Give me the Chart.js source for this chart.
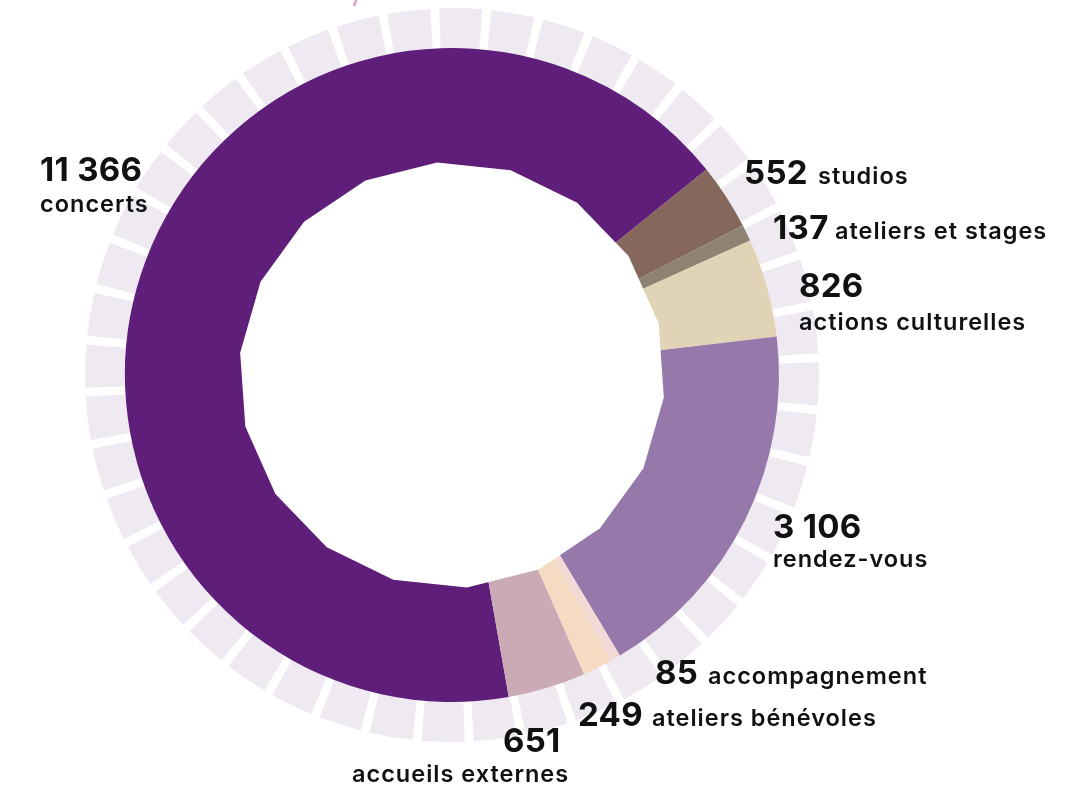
<!DOCTYPE html>
<html>
<head>
<meta charset="utf-8">
<script src="https://cdn.jsdelivr.net/npm/chart.js@4"></script>
<style>
  html, body { margin: 0; padding: 0; background: #fff; }
  #wrap { width: 1091px; height: 789px; position: relative; }
</style>
</head>
<body>
<div id="wrap"><canvas id="donut"></canvas></div>
<script>
// data
const categories = ["concerts", "studios", "ateliers et stages", "actions culturelles",
                    "rendez-vous", "accompagnement", "ateliers bénévoles", "accueils externes"];
const counts = [11366, 552, 137, 826, 3106, 85, 249, 651];
const countLabels = ["11 366", "552", "137", "826", "3 106", "85", "249", "651"];
const colors = ["#5e1e79", "#85675c", "#8e8372", "#e1d4b6", "#9778ab", "#f3d9d5", "#f4dbc1", "#c9aab5"];

// where each label sits (number position, text position, baseline)
const labelLayout = [
    { nx: 40,  ny: 181, tx: 40,  ty: 212 },
    { nx: 744, ny: 184, tx: 818, ty: 184 },
    { nx: 773, ny: 239, tx: 835, ty: 239 },
    { nx: 799, ny: 297, tx: 799, ty: 330 },
    { nx: 773, ny: 538, tx: 773, ty: 567 },
    { nx: 655, ny: 684, tx: 708, ty: 684 },
    { nx: 578, ny: 726, tx: 652, ty: 726 },
    { nx: 503, ny: 752, tx: 352, ty: 782 }
];

const deg = Math.PI / 180;

// light lavender blocks around the ring
const blockRing = {
    id: 'blockRing',
    beforeDatasetsDraw(chart) {
        const arc = chart.getDatasetMeta(0).data[0];
        const cx = arc.x, cy = arc.y;
        const ctx = chart.ctx;
        const n = 44;
        const pitch = 360 / n;
        const gap = 1.4;
        ctx.save();
        ctx.fillStyle = "#efe9f2";
        for (let i = 0; i < n; i++) {
            const a0 = (-90 - 2 + i * pitch) * deg;
            const a1 = a0 + (pitch - gap) * deg;
            ctx.beginPath();
            ctx.arc(cx, cy, 367, a0, a1);
            ctx.arc(cx, cy, 300, a1, a0, true);
            ctx.closePath();
            ctx.fill();
        }
        // small pink mark cut off at the top
        ctx.strokeStyle = "#d9a9c2";
        ctx.lineWidth = 2.5;
        ctx.beginPath();
        ctx.moveTo(357, -2);
        ctx.lineTo(354, 6);
        ctx.stroke();
        ctx.restore();
    },
    afterDatasetsDraw(chart) {
        // polygonal hole in the middle
        const arc = chart.getDatasetMeta(0).data[0];
        const cx = arc.x, cy = arc.y;
        const ctx = chart.ctx;
        ctx.save();
        ctx.fillStyle = "#ffffff";
        ctx.beginPath();
        for (let k = 0; k < 18; k++) {
            const a = (16 + k * 20 - 90) * deg;
            const x = cx + 213 * Math.cos(a);
            const y = cy + 213 * Math.sin(a);
            if (k === 0) ctx.moveTo(x, y); else ctx.lineTo(x, y);
        }
        ctx.closePath();
        ctx.fill();
        ctx.restore();
    }
};

const sliceLabels = {
    id: 'sliceLabels',
    afterDraw(chart) {
        const ctx = chart.ctx;
        ctx.save();
        ctx.fillStyle = "#111111";
        ctx.textBaseline = "alphabetic";
        ctx.textAlign = "left";
        categories.forEach((name, i) => {
            const p = labelLayout[i];
            ctx.letterSpacing = "0.3px";
            ctx.font = "700 33px Inter";
            ctx.fillText(countLabels[i], p.nx, p.ny);
            ctx.letterSpacing = "1px";
            ctx.font = "600 23.5px Inter";
            ctx.fillText(name, p.tx, p.ty);
        });
        ctx.restore();
    }
};

new Chart(document.getElementById("donut"), {
    type: 'doughnut',
    data: {
        labels: categories,
        datasets: [{
            data: counts,
            backgroundColor: colors,
            borderWidth: 0,
            hoverOffset: 0
        }]
    },
    options: {
        responsive: true,
        maintainAspectRatio: false,
        animation: false,
        rotation: 170,
        radius: 327,
        cutout: 200,
        layout: {
            padding: { left: 84, right: 271, top: 7, bottom: 46 }
        },
        plugins: {
            legend: { display: false },
            tooltip: { enabled: true }
        }
    },
    plugins: [blockRing, sliceLabels]
});
</script>
</body>
</html>
